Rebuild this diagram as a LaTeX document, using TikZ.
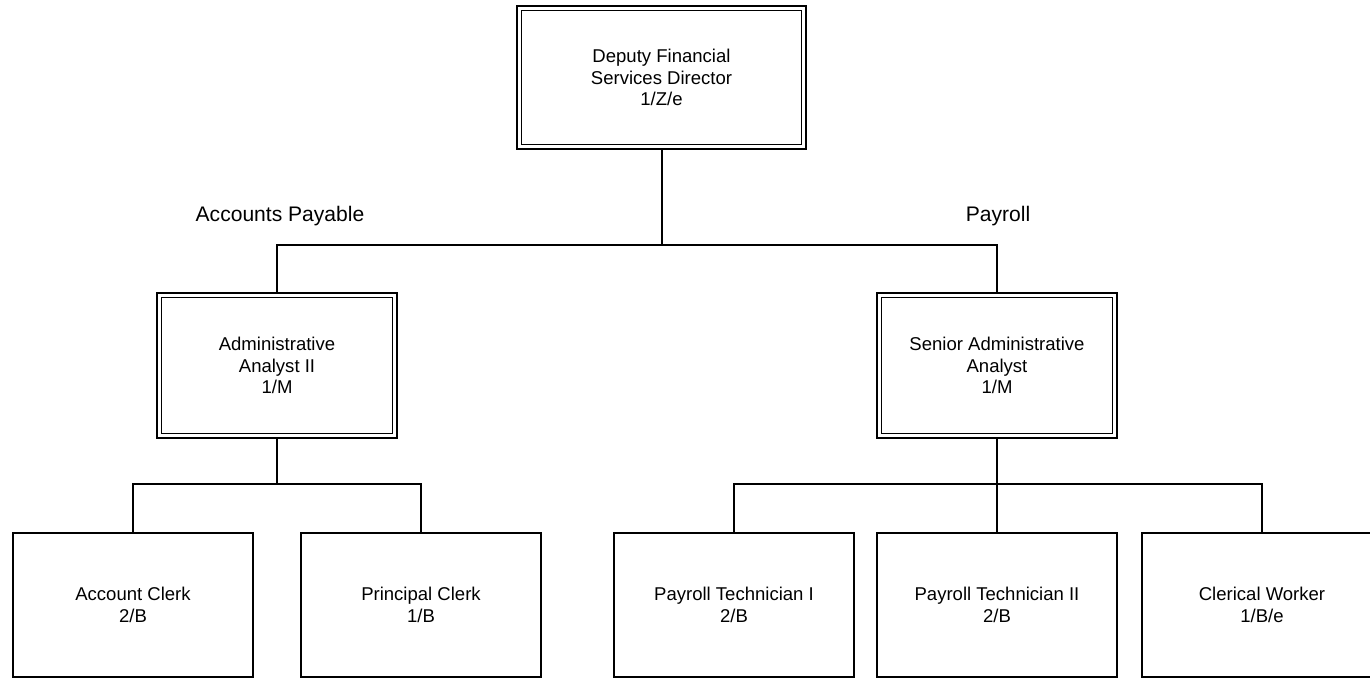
\documentclass[tikz,border=0pt]{standalone}
\usepackage{fontspec}
\setmainfont{Liberation Sans}
\begin{document}
\begin{tikzpicture}[x=0.75pt,y=-0.75pt,
  line width=1.5pt,
  box/.style={draw, line width=1.5pt, minimum width=180pt, minimum height=108.5pt,
    align=center, inner sep=0pt, font=\fontsize{13.9pt}{16.3pt}\selectfont},
  inner/.style={draw, line width=1pt},
  lbl/.style={inner sep=0pt, font=\fontsize{15.8pt}{18pt}\selectfont},
  conn/.style={draw, line width=1.5pt}
]
\useasboundingbox (0,0) rectangle (1370,678);

% top
\node[box, minimum width=216.75pt, minimum height=107.25pt] (top) at (661.5,77.5)
  {Deputy Financial\\Services Director\\1/Z/e};

% middle
\node[box] (aa) at (277,365.5) {Administrative\\Analyst II\\1/M};
\node[box] (saa) at (997,365.5) {Senior Administrative\\Analyst\\1/M};

% bottom
\node[box] (ac) at (133,605) {Account Clerk\\2/B};
\node[box] (pc) at (421,605) {Principal Clerk\\1/B};
\node[box] (pt1) at (734,605) {Payroll Technician I\\2/B};
\node[box] (pt2) at (997,605) {Payroll Technician II\\2/B};
\node[box] (cw) at (1262,605) {Clerical Worker\\1/B/e};

% inner borders of double boxes
\foreach \n in {top,aa,saa}
  \draw[inner] ([shift={(4pt,-4pt)}]\n.north west) rectangle ([shift={(-4pt,4pt)}]\n.south east);

% labels
\node[lbl] (lap) at (280,216) {Accounts Payable};
\node[lbl] (lpr) at (998,216) {Payroll};

% junctions
\coordinate (j1) at (661.5,245);
\coordinate (j2) at (277,484);
\coordinate (j3) at (997,484);

% connectors
\draw[conn] (top.south) -- (j1);
\draw[conn] (aa.north) -- (aa.north |- j1) -- (saa.north |- j1) -- (saa.north);

\draw[conn] (aa.south) -- (j2);
\draw[conn] (ac.north) -- (ac.north |- j2) -- (pc.north |- j2) -- (pc.north);

\draw[conn] (saa.south) -- (pt2.north);
\draw[conn] (pt1.north) -- (pt1.north |- j3) -- (cw.north |- j3) -- (cw.north);
\end{tikzpicture}
\end{document}
